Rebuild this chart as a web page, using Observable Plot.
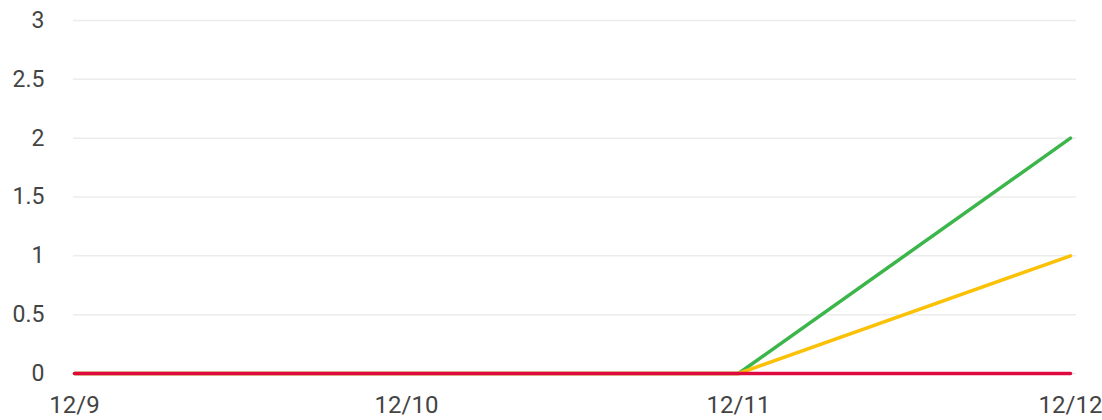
<!DOCTYPE html>
<html>
<head>
<meta charset="utf-8">
<script src="https://cdn.jsdelivr.net/npm/d3@7"></script>
<script src="https://cdn.jsdelivr.net/npm/@observablehq/plot@0.6"></script>
<style>
  html, body { margin: 0; padding: 0; background: #fff; }
  #chart svg { display: block; font-family: Roboto, sans-serif; }
</style>
</head>
<body>
<div id="chart"></div>
<script>
const dates = ["12/9", "12/10", "12/11", "12/12"];
const greenValues = [0, 0, 0, 2];
const yellowValues = [0, 0, 0, 1];
const redValues = [0, 0, 0, 0];
const yTicks = [0, 0.5, 1, 1.5, 2, 2.5, 3];

const series = [
  {key: "s1", color: "#3cb64a", values: greenValues},
  {key: "s2", color: "#fbc106", values: yellowValues},
  {key: "s3", color: "#e0093f", values: redValues}
];
const toRows = s => s.values.map((v, i) => ({date: dates[i], value: v}));

const chart = Plot.plot({
  width: 1102,
  height: 420,
  marginLeft: 73,
  marginRight: 26,
  marginTop: 20,
  marginBottom: 47,
  style: {fontFamily: "Roboto, sans-serif", fontSize: "23px", color: "#444", background: "#fff"},
  x: {type: "point", domain: dates, range: [73, 1070], padding: 0, label: null},
  y: {domain: [0, 3], label: null},
  marks: [
    Plot.ruleY(yTicks, {stroke: "#ececec", strokeWidth: 1.5}),
    Plot.axisY({ticks: yTicks, tickSize: 0, tickPadding: 29, label: null, fontSize: 23, tickFormat: d => String(d)}),
    Plot.axisX({tickSize: 0, tickPadding: 22, label: null, fontSize: 24}),
    ...series.map(s => Plot.line(toRows(s), {x: "date", y: "value", stroke: s.color, strokeWidth: 3.5}))
  ]
});
document.getElementById("chart").appendChild(chart);
</script>
</body>
</html>
